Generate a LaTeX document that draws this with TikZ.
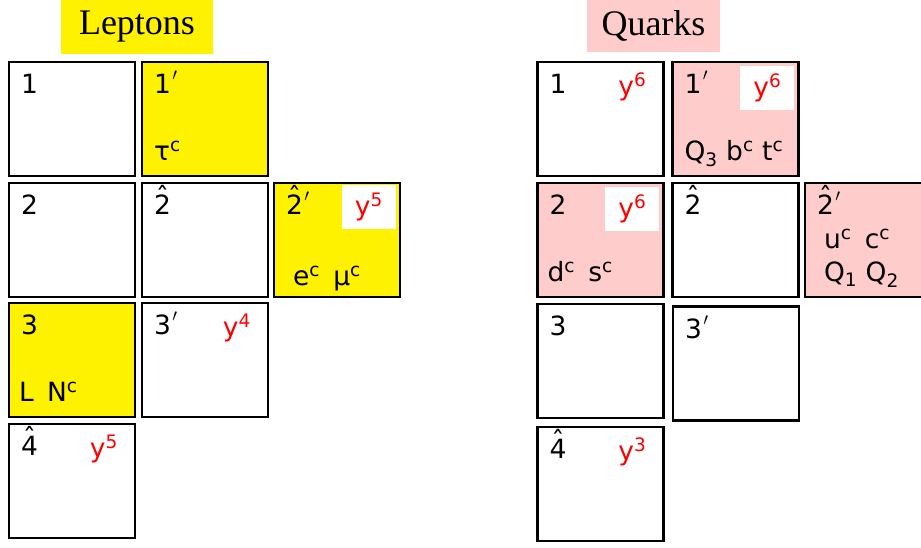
\documentclass[tikz,border=0pt]{standalone}
\usepackage{fontspec}
\setmainfont{Liberation Serif}
\newfontfamily\cellfont{DejaVu Sans}
\definecolor{quarkpink}{RGB}{255,204,204}
% digit with a circumflex hat above it, and a prime
\newcommand\hatnum[1]{\ooalign{#1\cr\hidewidth\raisebox{0.3em}{\char"02C6}\hidewidth\cr}}
\newcommand\pr{\kern0.05em\raisebox{0.5em}{$\scriptstyle\prime$}}
\begin{document}
\begin{tikzpicture}[x=1pt, y=-1pt,
  cell/.style={draw, line width=2.2pt, minimum width=126pt, minimum height=114pt, inner sep=0pt},
  lep/.style={cell, fill=yellow},
  qrk/.style={cell, fill=quarkpink},
  title/.style={inner sep=0pt, font=\fontsize{36}{40}\selectfont},
  lbl/.style={anchor=base west, inner sep=0pt, font=\cellfont\fontsize{26.5}{28}\selectfont},
  yuk/.style={inner sep=0pt, minimum width=54pt, minimum height=44pt, text=red, font=\cellfont\fontsize{26.5}{28}\selectfont},
  patch/.style={yuk, fill=white}]
  \useasboundingbox (0,0) rectangle (921,548);

  % titles
  \node[title, fill=yellow, minimum width=152pt, minimum height=54pt] (lepT) at (137,27) {Leptons};
  \node[title, fill=quarkpink, minimum width=133pt, minimum height=52pt] (qrkT) at (653.5,26) {Quarks};

  % lepton cells
  \node[cell] (L1)  at (72,119) {};
  \node[lep]  (L1p) at (205,119) {};
  \node[cell] (L2)  at (72,240) {};
  \node[cell] (L2h) at (205,240) {};
  \node[lep]  (L2hp) at (337,240) {};
  \node[lep]  (L3)  at (72,360) {};
  \node[cell] (L3p) at (205,360) {};
  \node[cell] (L4h) at (72,481) {};

  % quark cells
  \node[cell] (Q1)  at (600.5,119) {};
  \node[qrk]  (Q1p) at (735.5,119) {};
  \node[qrk]  (Q2)  at (600.5,240) {};
  \node[cell] (Q2h) at (735.5,240) {};
  \node[qrk]  (Q2hp) at (868,240) {};
  \node[cell] (Q3)  at (600.5,361) {};
  \node[cell] (Q3p) at (736,363.5) {};
  \node[cell] (Q4h) at (600.5,484) {};

  % lepton labels
  \node[lbl] (L1n)   at ([shift={(13,33)}]L1.north west) {1};
  \node[lbl] (L1pn)  at ([shift={(13,33)}]L1p.north west) {1\pr};
  \node[lbl] (L1pf)  at ([shift={(13,100)}]L1p.north west) {τ\textsuperscript{c}};
  \node[lbl] (L2n)   at ([shift={(13,33)}]L2.north west) {2};
  \node[lbl] (L2hn)  at ([shift={(13,33)}]L2h.north west) {\hatnum{2}};
  \node[lbl] (L2hpn) at ([shift={(13,33)}]L2hp.north west) {\hatnum{2}\pr};
  \node[patch] (L2hpy) at ([shift={(96,25)}]L2hp.north west) {y\textsuperscript{5}};
  \node[lbl] (L2hpf) at ([shift={(20,104)}]L2hp.north west) {e\textsuperscript{c}\enspace μ\textsuperscript{c}};
  \node[lbl] (L3n)   at ([shift={(13,33)}]L3.north west) {3};
  \node[lbl] (L3f)   at ([shift={(11,100)}]L3.north west) {L\enspace N\textsuperscript{c}};
  \node[lbl] (L3pn)  at ([shift={(13,33)}]L3p.north west) {3\pr};
  \node[yuk] (L3py)  at ([shift={(96,26)}]L3p.north west) {y\textsuperscript{4}};
  \node[lbl] (L4hn)  at ([shift={(13,33)}]L4h.north west) {\hatnum{4}};
  \node[yuk] (L4hy)  at ([shift={(96,26)}]L4h.north west) {y\textsuperscript{5}};

  % quark labels
  \node[lbl] (Q1n)   at ([shift={(13,33)}]Q1.north west) {1};
  \node[yuk] (Q1y)   at ([shift={(96,26)}]Q1.north west) {y\textsuperscript{6}};
  \node[lbl] (Q1pn)  at ([shift={(13,33)}]Q1p.north west) {1\pr};
  \node[patch] (Q1py) at ([shift={(96,27)}]Q1p.north west) {y\textsuperscript{6}};
  \node[lbl] (Q1pf)  at ([shift={(13,100)}]Q1p.north west) {Q\textsubscript{3} b\textsuperscript{c} t\textsuperscript{c}};
  \node[lbl] (Q2n)   at ([shift={(13,33)}]Q2.north west) {2};
  \node[patch] (Q2y) at ([shift={(96,27)}]Q2.north west) {y\textsuperscript{6}};
  \node[lbl] (Q2f)   at ([shift={(11,100)}]Q2.north west) {d\textsuperscript{c}\enspace s\textsuperscript{c}};
  \node[lbl] (Q2hn)  at ([shift={(13,33)}]Q2h.north west) {\hatnum{2}};
  \node[lbl] (Q2hpn) at ([shift={(13,33)}]Q2hp.north west) {\hatnum{2}\pr};
  \node[lbl] (Q2hpu) at ([shift={(20,67)}]Q2hp.north west) {u\textsuperscript{c}\enspace c\textsuperscript{c}};
  \node[lbl] (Q2hpf) at ([shift={(20,100)}]Q2hp.north west) {Q\textsubscript{1} Q\textsubscript{2}};
  \node[lbl] (Q3n)   at ([shift={(13,33)}]Q3.north west) {3};
  \node[lbl] (Q3pn)  at ([shift={(13,33)}]Q3p.north west) {3\pr};
  \node[lbl] (Q4hn)  at ([shift={(13,33)}]Q4h.north west) {\hatnum{4}};
  \node[yuk] (Q4hy)  at ([shift={(96,26)}]Q4h.north west) {y\textsuperscript{3}};
\end{tikzpicture}
\end{document}
